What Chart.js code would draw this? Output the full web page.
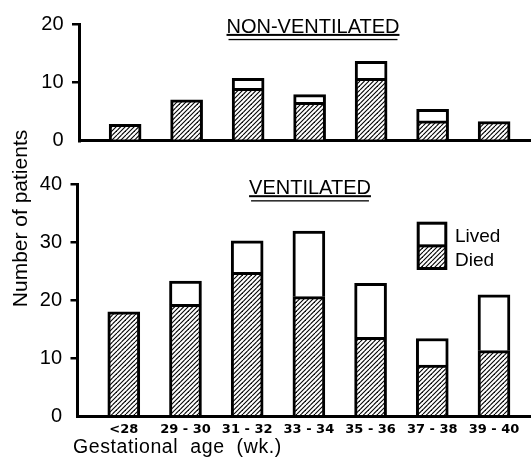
<!DOCTYPE html>
<html><head><meta charset="utf-8">
<script src="https://cdn.jsdelivr.net/npm/chart.js@4"></script>
<style>
html,body{margin:0;padding:0;background:#fff;}
#wrap{position:relative;width:531px;height:458px;overflow:hidden;background:#fff;}
#wrap canvas{position:absolute;left:0;top:0;}
</style></head><body>
<div id="wrap"><canvas id="top" width="531" height="458"></canvas><canvas id="bottom" width="531" height="458"></canvas></div>
<script>
// ---- data ----
const categories = ['<28', '29 - 30', '31 - 32', '33 - 34', '35 - 36', '37 - 38', '39 - 40'];
const nonVentDied  = [2.8, 7.0, 9.0, 6.6, 10.7, 3.4, 3.3];
const nonVentLived = [0,   0,   1.7, 1.3, 2.9,  2.0, 0];
const ventDied     = [18.0, 19.3, 24.8, 20.6, 13.6, 8.8, 11.3];
const ventLived    = [0,    4.0,  5.4,  11.3, 9.3,  4.6, 9.6];
const nonVentTicks = [0, 10, 20];
const ventTicks    = [0, 10, 20, 30, 40];
const seriesLabels = ['Died', 'Lived'];

function makeHatch(ctx) {
  const c = document.createElement('canvas');
  c.width = 9; c.height = 9;
  const g = c.getContext('2d');
  g.fillStyle = '#fff'; g.fillRect(0, 0, 9, 9);
  g.strokeStyle = '#000'; g.lineWidth = 1.1;
  for (const o of [-9, -4.5, 0, 4.5, 9]) {
    g.beginPath(); g.moveTo(o, 9); g.lineTo(o + 9, 0); g.stroke();
  }
  return ctx.createPattern(c, 'repeat');
}

const decor = {
  id: 'decor',
  afterDraw(chart, args, o) {
    const ctx = chart.ctx;
    ctx.save();
    ctx.fillStyle = '#000'; ctx.strokeStyle = '#000';
    if (o.title) {
      ctx.font = '20px "Liberation Sans"';
      ctx.textAlign = 'center'; ctx.textBaseline = 'alphabetic';
      ctx.fillText(o.title, o.titleX, o.titleY);
      const w = ctx.measureText(o.title).width;
      ctx.fillRect(o.titleX - w / 2, o.titleY + 1.2, w, 2);
      ctx.fillRect(o.titleX - w / 2 + 2, o.titleY + 6.2, w - 4, 1.3);
    }
    if (o.legend) {
      const ds = chart.data.datasets;
      const L = o.legend;
      ctx.fillStyle = ds[1].backgroundColor;
      ctx.fillRect(L.x, L.y, L.w, L.h / 2);
      ctx.fillStyle = ds[0].backgroundColor;
      ctx.fillRect(L.x, L.y + L.h / 2, L.w, L.h / 2);
      ctx.lineWidth = 3;
      ctx.strokeRect(L.x, L.y, L.w, L.h);
      ctx.beginPath(); ctx.moveTo(L.x, L.y + L.h / 2); ctx.lineTo(L.x + L.w, L.y + L.h / 2); ctx.stroke();
      ctx.fillStyle = '#000';
      ctx.font = '19px "Liberation Sans"';
      ctx.textAlign = 'left'; ctx.textBaseline = 'alphabetic';
      ctx.fillText(ds[1].label, L.tx, L.y + 19);
      ctx.fillText(ds[0].label, L.tx, L.y + 43);
    }
    if (o.xTitle) {
      ctx.font = '19.5px "Liberation Sans"';
      ctx.letterSpacing = '0.6px';
      ctx.wordSpacing = '6px';
      ctx.textAlign = 'left'; ctx.textBaseline = 'alphabetic';
      ctx.fillText(o.xTitle, o.xTitleX, o.xTitleY);
      ctx.letterSpacing = '0px';
      ctx.wordSpacing = '0px';
    }
    if (o.yTitle) {
      ctx.font = '21px "Liberation Sans"';
      ctx.textAlign = 'center'; ctx.textBaseline = 'alphabetic';
      ctx.translate(o.yTitleX, o.yTitleY);
      ctx.rotate(-Math.PI / 2);
      ctx.fillText(o.yTitle, 0, 0);
    }
    ctx.restore();
  }
};

function makeChart(id, died, lived, yMax, yTicks, left, top, bottom, showX, decorOpts) {
  const ctx = document.getElementById(id).getContext('2d');
  const hatch = makeHatch(ctx);
  return new Chart(ctx, {
    type: 'bar',
    data: {
      datasets: [
        { label: seriesLabels[0], data: died.map((v, i) => ({ x: i, y: v })),
          backgroundColor: hatch, borderColor: '#000', borderWidth: 3, barThickness: 32 },
        { label: seriesLabels[1], data: lived.map((v, i) => ({ x: i, y: v })),
          backgroundColor: '#fff', borderColor: '#000', borderWidth: 3, barThickness: 32 }
      ]
    },
    options: {
      responsive: false, animation: false, devicePixelRatio: 1,
      layout: { padding: { top: top, left: 0, right: 0, bottom: 0 } },
      plugins: { legend: { display: false }, tooltip: { enabled: false }, decor: decorOpts },
      scales: {
        x: {
          type: 'linear', stacked: true, min: -0.75, max: 6.6, offset: false,
          afterBuildTicks: s => { s.ticks = categories.map((_, i) => ({ value: i })); },
          afterFit: s => { s.height = 458 - bottom; },
          grid: { display: true, offset: false, drawOnChartArea: false, drawTicks: false },
          border: { display: true, width: 3, color: '#000' },
          ticks: { display: showX, autoSkip: false, maxRotation: 0, minRotation: 0, padding: 6, color: '#000',
                   font: { family: 'DejaVu Sans', weight: 'bold', size: 13 },
                   callback: v => categories[v] }
        },
        y: {
          stacked: true, min: 0, max: yMax,
          afterBuildTicks: s => { s.ticks = yTicks.map(v => ({ value: v })); },
          afterFit: s => { s.width = left; },
          grid: { drawOnChartArea: false, drawTicks: true, tickLength: 7, lineWidth: 2.5,
                  color: c => (c.tick && c.tick.value === 0) ? 'rgba(0,0,0,0)' : '#000' },
          border: { display: true, width: 3, color: '#000' },
          ticks: { color: '#000', padding: 8.5, font: { family: 'Liberation Sans', size: 20 } }
        }
      }
    },
    plugins: [decor]
  });
}

makeChart('top', nonVentDied, nonVentLived, 20, nonVentTicks, 79, 24, 140.8, false,
  { title: 'NON-VENTILATED', titleX: 313, titleY: 32.7 });
makeChart('bottom', ventDied, ventLived, 40, ventTicks, 77.5, 184, 416.3, true,
  { title: 'VENTILATED', titleX: 310, titleY: 194,
    legend: { x: 418.2, y: 223.2, w: 27.6, h: 45.3, tx: 455 },
    xTitle: 'Gestational age (wk.)', xTitleX: 73, xTitleY: 453,
    yTitle: 'Number of patients', yTitleX: 26.5, yTitleY: 218.5 });
</script>
</body></html>
